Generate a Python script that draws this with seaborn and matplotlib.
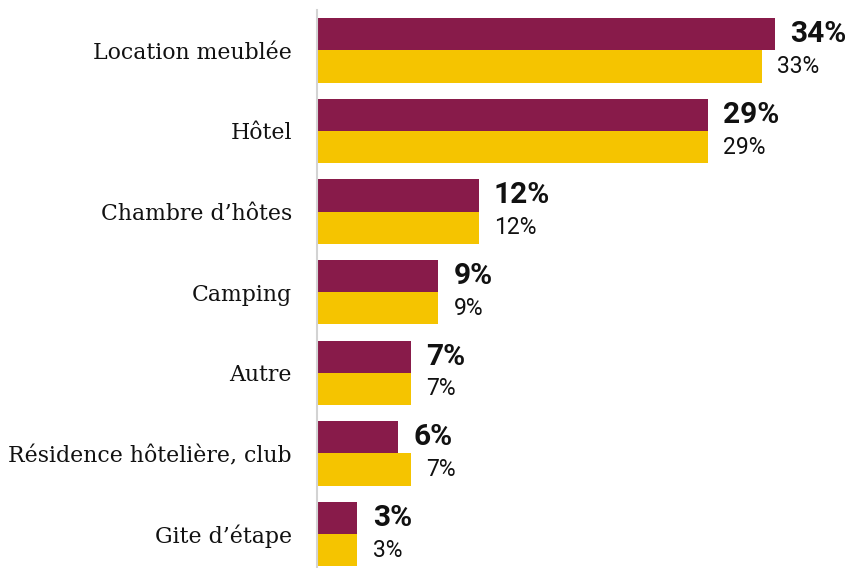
import pandas as pd
import seaborn as sns
import matplotlib.pyplot as plt

categories = ['Location meublée', 'Hôtel', "Chambre d’hôtes", 'Camping',
              'Autre', 'Résidence hôtelière, club', 'Gite d’étape']
valeurs_a = [34, 29, 12, 9, 7, 6, 3]
valeurs_b = [33, 29, 12, 9, 7, 7, 3]
series = ['A', 'B']
couleurs = ['#881B4A', '#F5C400']

df = pd.DataFrame({
    'type': categories * 2,
    'valeur': valeurs_a + valeurs_b,
    'serie': [series[0]] * len(categories) + [series[1]] * len(categories),
})

sns.set_theme(style="white")

fig = plt.figure(figsize=(8.52, 5.68), dpi=100)
ax = fig.add_axes([317 / 852, 0, 1 - 317 / 852, 1 - 10 / 568])

sns.barplot(data=df, y='type', x='valeur', hue='serie', palette=couleurs,
            orient='h', width=0.8, ax=ax, legend=False, saturation=1,
            linewidth=0)

ax.set_xlim(0, (852 - 317) / 13.47)
ax.set_ylim(6.42, -0.5)
ax.set_xlabel('')
ax.set_ylabel('')
ax.set_xticks([])
ax.tick_params(axis='y', length=0, pad=18)
for lab in ax.get_yticklabels():
    lab.set_fontfamily('DejaVu Serif')
    lab.set_fontsize(15.8)
    lab.set_color('#111111')

for s in ['top', 'right', 'bottom']:
    ax.spines[s].set_visible(False)
ax.spines['left'].set_color('#D3D3D3')
ax.spines['left'].set_linewidth(1.5)

for cont, vals, poids, taille in zip(ax.containers, [valeurs_a, valeurs_b],
                                     ['bold', 'normal'], [21.5, 16.5]):
    ax.bar_label(cont, labels=[f'{v}%' for v in vals], padding=11,
                 fontsize=taille, fontweight=poids, family='Roboto', color='#111111')

plt.savefig('out.png', dpi=100)
